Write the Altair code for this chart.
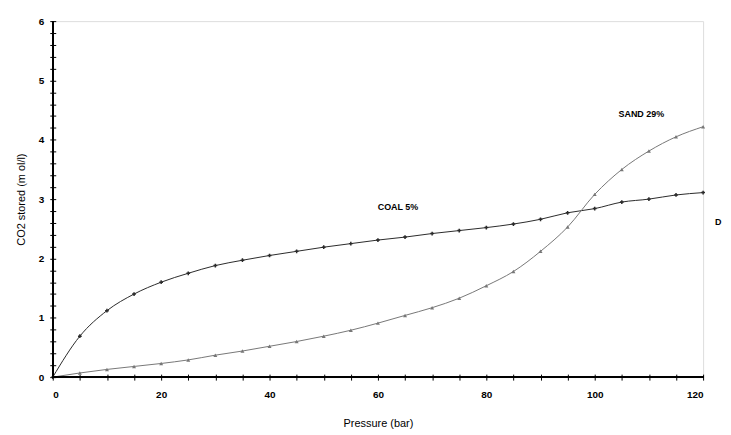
import altair as alt
import pandas as pd

pressure = [0, 5, 10, 15, 20, 25, 30, 35, 40, 45, 50, 55, 60, 65, 70, 75, 80, 85, 90, 95, 100, 105, 110, 115, 120]
coal = [0.0, 0.69, 1.12, 1.40, 1.60, 1.75, 1.88, 1.97, 2.05, 2.12, 2.19, 2.25, 2.31, 2.36, 2.42, 2.47, 2.52, 2.58, 2.66, 2.77, 2.84, 2.95, 3.00, 3.07, 3.11]
sand = [0.0, 0.07, 0.13, 0.18, 0.23, 0.29, 0.37, 0.44, 0.52, 0.60, 0.69, 0.79, 0.91, 1.04, 1.17, 1.33, 1.54, 1.78, 2.12, 2.53, 3.08, 3.50, 3.81, 4.05, 4.22]

labels_text = ["COAL 5%", "SAND 29%", "D"]
labels_x = [63.7, 108.6, 122.8]
labels_y = [2.86, 4.44, 2.61]

x_ticks = list(range(0, 125, 5))
y_ticks = [round(i * 0.2, 1) for i in range(31)]

FONT = "Liberation Sans"
W, H = 654, 358

df = pd.DataFrame({"p": pressure * 2,
                   "v": coal + sand,
                   "s": ["COAL 5%"] * len(pressure) + ["SAND 29%"] * len(pressure)})
lab = pd.DataFrame({"t": labels_text, "x": labels_x, "y": labels_y})

xs = alt.Scale(domain=[0, 120], nice=False, zero=False)
ys = alt.Scale(domain=[0, 6], nice=False, zero=False)
col = alt.Scale(domain=["COAL 5%", "SAND 29%"], range=["#2a2a2a", "#777777"])

xaxis = alt.Axis(values=x_ticks, tickCount=100, format=".0f",
                 labelExpr="datum.value % 20 == 0 ? datum.label : ''",
                 labelOverlap=False, grid=False, domain=False, offset=-3, tickSize=6, tickColor="black",
                 labelPadding=9, labelFont=FONT, labelFontSize=10, labelFontWeight="bold",
                 labelColor="black", title="Pressure (bar)", titleFont=FONT,
                 titleFontSize=11, titleFontWeight="normal", titleColor="black", titlePadding=19)
yaxis = alt.Axis(values=y_ticks, tickCount=100, format=".0f",
                 labelExpr="abs(datum.value - round(datum.value)) < 0.01 ? datum.label : ''",
                 labelOverlap=False, grid=False, domain=False, offset=-3, tickSize=6, tickColor="black",
                 labelPadding=6, labelFont=FONT, labelFontSize=10, labelFontWeight="bold",
                 labelColor="black", title="CO2 stored (m ol/l)", titleFont=FONT,
                 titleFontSize=11, titleFontWeight="normal", titleColor="black", titlePadding=12)

base = alt.Chart(df)
lines = base.mark_line(strokeWidth=1, interpolate="monotone").encode(
    x=alt.X("p:Q", scale=xs, axis=xaxis),
    y=alt.Y("v:Q", scale=ys, axis=yaxis),
    color=alt.Color("s:N", scale=col, legend=None),
    detail="s:N",
)
pts_c = alt.Chart(df).transform_filter("datum.s == 'COAL 5%'").mark_point(
    shape="cross", filled=True, size=14, opacity=1).encode(
    x=alt.X("p:Q", scale=xs), y=alt.Y("v:Q", scale=ys),
    color=alt.Color("s:N", scale=col, legend=None))
pts_s = alt.Chart(df).transform_filter("datum.s == 'SAND 29%' && datum.p > 0").mark_point(
    shape="triangle-up", filled=True, size=16, opacity=1).encode(
    x=alt.X("p:Q", scale=xs), y=alt.Y("v:Q", scale=ys),
    color=alt.Color("s:N", scale=col, legend=None))

yline = alt.Chart(df).mark_rule(color="black", strokeWidth=1.5).encode(
    x=alt.value(0), y=alt.value(0), y2=alt.value(H))
xline = alt.Chart(df).mark_rule(color="black", strokeWidth=1.5).encode(
    x=alt.value(0), x2=alt.value(W), y=alt.value(H))

texts = alt.Chart(lab).mark_text(font=FONT, fontSize=9, fontWeight="bold", color="black").encode(
    x=alt.X("x:Q", scale=xs), y=alt.Y("y:Q", scale=ys), text="t:N")

chart = alt.layer(lines, pts_c, pts_s, yline, xline, texts).properties(
    width=W, height=H,
    autosize=alt.AutoSizeParams(type="none"),
    padding={"left": 45, "top": 12, "right": 20, "bottom": 55},
).configure_view(stroke=None).configure(background="white")

chart.save("out.html", embed_options={"renderer": "svg", "actions": False})
